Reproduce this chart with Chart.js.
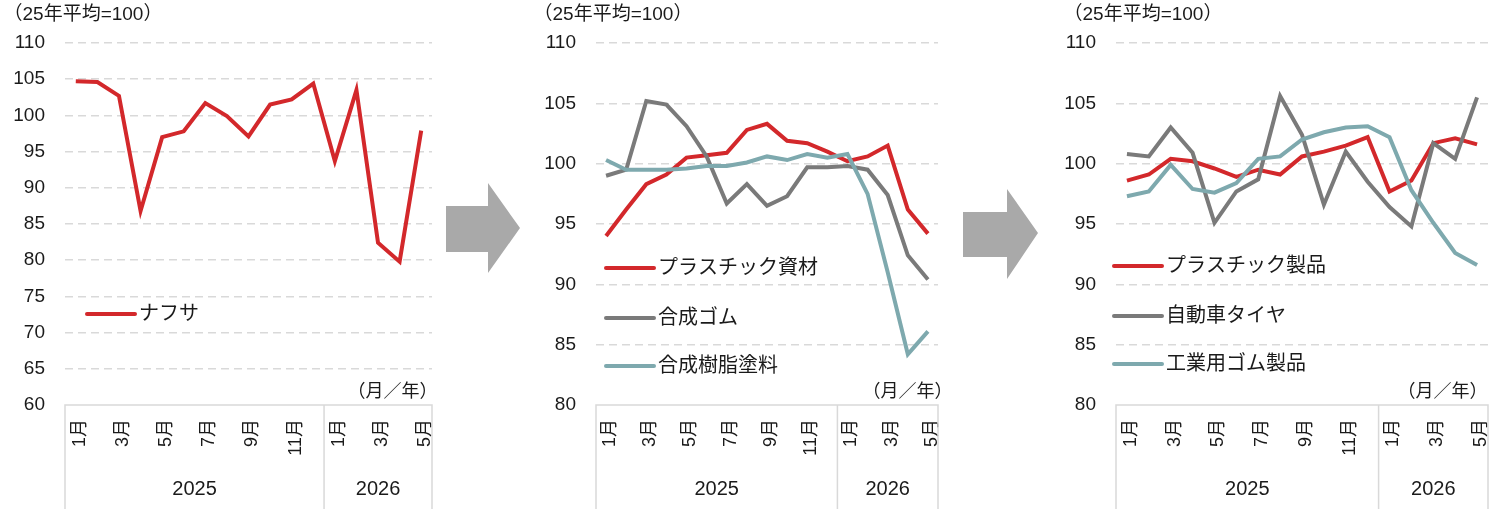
<!DOCTYPE html>
<html lang="ja">
<head>
<meta charset="utf-8">
<script src="https://cdn.jsdelivr.net/npm/chart.js@4.4.1/dist/chart.umd.min.js"></script>
<style>
body { margin: 0; background: #fff; }
#wrap { position: relative; width: 1496px; height: 509px; overflow: hidden; }
canvas { position: absolute; top: 0; }
svg { position: absolute; top: 0; left: 0; }
</style>
</head>
<body>
<div id="wrap">
<canvas id="c1" width="445" height="509" style="left:0px"></canvas>
<canvas id="c2" width="440" height="509" style="left:520px"></canvas>
<canvas id="c3" width="451" height="509" style="left:1045px"></canvas>
<svg width="1496" height="509">
  <polygon points="446,206 488,206 488,183 520,228 488,273 488,252 446,252" fill="#a9a9a9"/>
  <polygon points="963,212 1007,212 1007,189 1038,233 1007,279 1007,257 963,257" fill="#a9a9a9"/>
</svg>
</div>
<script>
// data
const months = ['1月', '2月', '3月', '4月', '5月', '6月', '7月', '8月', '9月', '10月', '11月', '12月',
                '1月', '2月', '3月', '4月', '5月'];
const years = ['2025', '2026'];
const unitTitle = '（25年平均=100）';
const periodLabel = '（月／年）';

const naphtha = [104.7, 104.6, 102.7, 86.8, 97.0, 97.8, 101.7, 99.9, 97.1, 101.5, 102.2, 104.4, 93.7, 103.5, 82.4, 79.8, 97.9];

const plasticMaterial = [94.0, 96.2, 98.3, 99.1, 100.5, 100.7, 100.9, 102.8, 103.3, 101.9, 101.7, 101.0, 100.2, 100.6, 101.5, 96.2, 94.2];
const syntheticRubber = [99.0, 99.5, 105.2, 104.9, 103.1, 100.6, 96.7, 98.3, 96.5, 97.3, 99.7, 99.7, 99.8, 99.5, 97.4, 92.4, 90.4];
const resinPaint = [100.3, 99.5, 99.5, 99.5, 99.6, 99.8, 99.8, 100.1, 100.6, 100.3, 100.8, 100.5, 100.8, 97.5, 91.0, 84.2, 86.1];

const plasticProducts = [98.6, 99.1, 100.4, 100.2, 99.6, 98.9, 99.5, 99.1, 100.6, 101.0, 101.5, 102.2, 97.7, 98.6, 101.7, 102.1, 101.6];
const tires = [100.8, 100.6, 103.0, 100.9, 95.1, 97.7, 98.7, 105.6, 102.4, 96.6, 101.0, 98.5, 96.4, 94.8, 101.7, 100.4, 105.5];
const industrialRubber = [97.3, 97.7, 99.9, 97.9, 97.6, 98.4, 100.4, 100.6, 102.0, 102.6, 103.0, 103.1, 102.2, 97.8, 95.1, 92.6, 91.6];

const leftRange = [60, 110];
const rightRange = [80, 110];

const FONT = '"Liberation Sans", "Noto Sans CJK JP", sans-serif';
const TEXT = '#1a1a1a';
const RED = '#d3282b';
const GRAY = '#7a7a7a';
const TEAL = '#7ea9ae';

// frame under the x axis, year row, titles and legend
const decor = {
    id: 'decor',
    afterDraw(chart, args, o) {
        const {ctx, chartArea: a, scales: {x}} = chart;
        const sep = (x.getPixelForValue(11) + x.getPixelForValue(12)) / 2;
        ctx.save();
        ctx.strokeStyle = '#d9d9d9';
        ctx.lineWidth = 1.5;
        ctx.beginPath();
        ctx.moveTo(a.left, chart.height);
        ctx.lineTo(a.left, a.bottom);
        ctx.lineTo(a.right, a.bottom);
        ctx.lineTo(a.right, chart.height);
        ctx.moveTo(sep, a.bottom);
        ctx.lineTo(sep, chart.height);
        ctx.stroke();

        ctx.fillStyle = TEXT;
        ctx.textBaseline = 'middle';
        ctx.font = '20px ' + FONT;
        ctx.textAlign = 'center';
        ctx.fillText(years[0], (a.left + sep) / 2, 489);
        ctx.fillText(years[1], (sep + a.right) / 2, 489);

        ctx.font = '19px ' + FONT;
        ctx.textAlign = 'left';
        ctx.fillText(unitTitle, o.titleX, 15);
        ctx.font = '18px ' + FONT;
        ctx.textAlign = 'right';
        ctx.fillText(periodLabel, o.periodX, 392);

        chart.data.datasets.forEach((d, i) => {
            const y = o.legendY[i];
            ctx.strokeStyle = d.borderColor;
            ctx.lineWidth = 4;
            ctx.lineCap = 'round';
            ctx.beginPath();
            ctx.moveTo(o.legendX, y);
            ctx.lineTo(o.legendX + 48, y);
            ctx.stroke();
            ctx.font = '20px ' + FONT;
            ctx.textAlign = 'left';
            ctx.fillText(d.label, o.legendX + 52, y);
        });
        ctx.restore();
    }
};

function series(label, data, color, order) {
    return { label, data, borderColor: color, backgroundColor: color, order };
}

function makeChart(id, datasets, range, axisWidth, padRight, deco) {
    new Chart(document.getElementById(id), {
        type: 'line',
        data: { labels: months, datasets },
        options: {
            responsive: false,
            animation: false,
            layout: { padding: { top: 43, right: padRight, bottom: 0, left: 0 } },
            elements: {
                point: { radius: 0 },
                line: { borderWidth: 4, tension: 0 }
            },
            scales: {
                x: {
                    offset: true,
                    grid: { display: false, drawTicks: false },
                    border: { display: false },
                    ticks: {
                        autoSkip: false, minRotation: 90, maxRotation: 90, padding: 14, labelOffset: 4,
                        color: TEXT, font: { family: FONT, size: 18 },
                        callback: (v, i) => i % 2 === 0 ? months[i] : ''
                    },
                    afterFit: s => { s.height = 104; s.paddingLeft = 0; s.paddingRight = 0; }
                },
                y: {
                    min: range[0], max: range[1],
                    grid: {
                        color: c => c.tick.value === range[0] ? 'rgba(0,0,0,0)' : '#d9d9d9',
                        lineWidth: 1.5, drawTicks: false
                    },
                    border: { display: false, dash: [8, 5] },
                    ticks: { stepSize: 5, padding: 20, color: TEXT, font: { family: FONT, size: 19 } },
                    afterFit: s => { s.width = axisWidth; s.paddingTop = 0; s.paddingBottom = 0; }
                }
            },
            plugins: { legend: { display: false }, tooltip: { enabled: false }, decor: deco }
        },
        plugins: [decor]
    });
}

makeChart('c1', [series('ナフサ', naphtha, RED, 1)], leftRange, 65, 13,
    { titleX: 3.5, periodX: 437.5, legendX: 87, legendY: [314] });

makeChart('c2', [
    series('プラスチック資材', plasticMaterial, RED, 3),
    series('合成ゴム', syntheticRubber, GRAY, 2),
    series('合成樹脂塗料', resinPaint, TEAL, 1)
], rightRange, 76, 22, { titleX: 13.5, periodX: 432.5, legendX: 86, legendY: [268, 318, 366] });

makeChart('c3', [
    series('プラスチック製品', plasticProducts, RED, 3),
    series('自動車タイヤ', tires, GRAY, 2),
    series('工業用ゴム製品', industrialRubber, TEAL, 1)
], rightRange, 71, 8, { titleX: 18.5, periodX: 442.5, legendX: 69, legendY: [266, 316, 364] });
</script>
</body>
</html>
